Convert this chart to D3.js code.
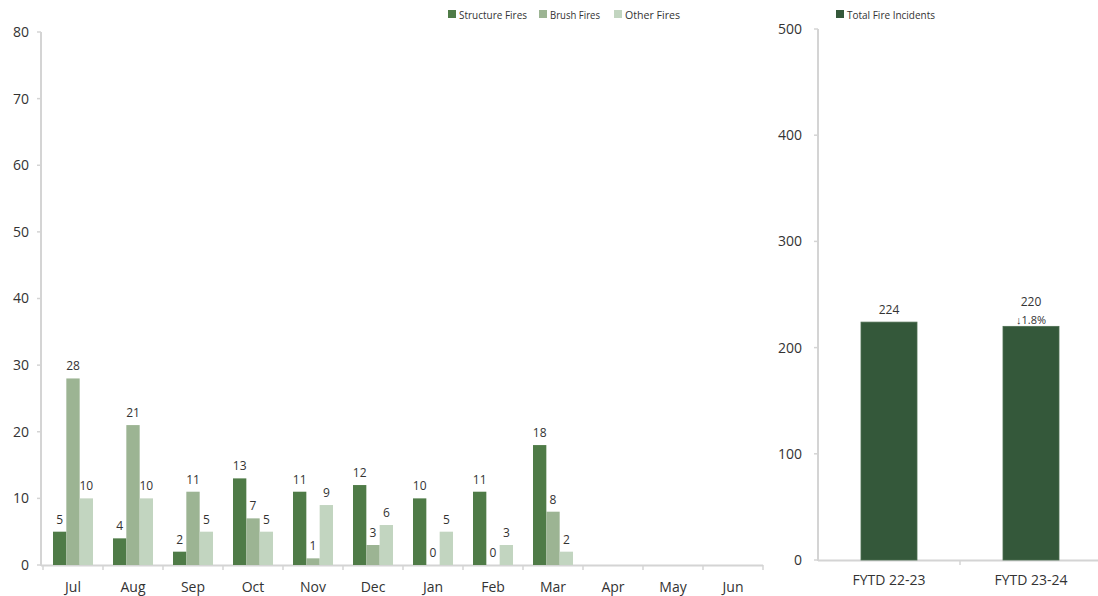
<!DOCTYPE html>
<html><head><meta charset="utf-8">
<script src="https://cdn.jsdelivr.net/npm/d3@7"></script>
<style>
body{margin:0;background:#fff;}
svg{display:block;font-family:"Open Sans","Liberation Sans",sans-serif;}
</style></head>
<body>
<svg id="c" width="1098" height="596"></svg>
<script>
const months = ["Jul","Aug","Sep","Oct","Nov","Dec","Jan","Feb","Mar","Apr","May","Jun"];
const seriesNames = ["Structure Fires","Brush Fires","Other Fires"];
const structureFires = [5,4,2,13,11,12,10,11,18,null,null,null];
const brushFires = [28,21,11,7,1,3,0,0,8,null,null,null];
const otherFires = [10,10,5,5,9,6,5,3,2,null,null,null];
const leftTicks = [0,10,20,30,40,50,60,70,80];
const periods = ["FYTD 22-23","FYTD 23-24"];
const totalIncidents = [224,220];
const changeLabel = ["","↓1.8%"];
const rightTicks = [0,100,200,300,400,500];
const totalName = "Total Fire Incidents";

const colors = ["#4f7b47","#9cb493","#c2d5c0"];
const totalColor = "#34583a";
const axisColor = "#d4d4d4";
const textColor = "#333";

const svg = d3.select("#c");

// ---------- Left chart ----------
const L = {x0:43, x1:763, y0:565, y1:32};
const xL = d3.scaleBand().domain(months).range([L.x0, L.x1]);
const xInner = d3.scaleBand().domain(seriesNames).range([0, 40]);
const yL = d3.scaleLinear().domain([0,80]).range([L.y0, L.y1]);

const gL = svg.append("g");
// y axis
gL.append("line").attr("x1",41).attr("x2",41).attr("y1",yL(80)).attr("y2",yL(0)+1)
  .attr("stroke",axisColor).attr("stroke-width",2);
leftTicks.forEach(t=>{
  gL.append("line").attr("x1",37).attr("x2",41).attr("y1",yL(t)).attr("y2",yL(t)).attr("stroke",axisColor).attr("stroke-width",1.5);
  gL.append("text").attr("x",29).attr("y",yL(t)).attr("dy","0.35em").attr("text-anchor","end")
    .attr("font-size",14).attr("fill",textColor).text(t);
});
// x axis
gL.append("line").attr("x1",41).attr("x2",L.x1).attr("y1",yL(0)+0.5).attr("y2",yL(0)+0.5)
  .attr("stroke",axisColor).attr("stroke-width",2);
months.forEach((m,i)=>{
  const xs = xL(m);
  gL.append("line").attr("x1",xs).attr("x2",xs).attr("y1",yL(0)).attr("y2",yL(0)+5).attr("stroke",axisColor).attr("stroke-width",1.5);
  gL.append("text").attr("x",xs+xL.bandwidth()/2).attr("y",592).attr("text-anchor","middle")
    .attr("font-size",14).attr("fill",textColor).text(m);
});
gL.append("line").attr("x1",L.x1).attr("x2",L.x1).attr("y1",yL(0)).attr("y2",yL(0)+5).attr("stroke",axisColor).attr("stroke-width",1.5);

const seriesVals = [structureFires, brushFires, otherFires];
seriesVals.forEach((vals,si)=>{
  months.forEach((m,i)=>{
    const v = vals[i];
    if(v===null) return;
    const x = xL(m) + 10 + xInner(seriesNames[si]);
    const w = xInner.bandwidth();
    gL.append("rect").attr("x",x).attr("y",yL(v)).attr("width",w).attr("height",yL(0)-yL(v))
      .attr("fill",colors[si]);
    gL.append("text").attr("x",x+w/2).attr("y",yL(v)-8).attr("text-anchor","middle")
      .attr("font-size",12).attr("fill",textColor).text(v);
  });
});

// legend left
const legX = [448,539,614];
seriesNames.forEach((n,i)=>{
  svg.append("rect").attr("x",legX[i]).attr("y",10).attr("width",8).attr("height",8).attr("fill",colors[i]);
  svg.append("text").attr("x",legX[i]+11).attr("y",18.5).attr("font-size",11).attr("fill",textColor)
    .attr("textLength", [68,50,55][i]).attr("lengthAdjust","spacingAndGlyphs").text(n);
});

// ---------- Right chart ----------
const R = {x0:818, x1:1102, y0:560, y1:29};
const xR = d3.scaleBand().domain(periods).range([R.x0, R.x1]).paddingInner(0).paddingOuter(0);
const yR = d3.scaleLinear().domain([0,500]).range([R.y0, R.y1]);
const gR = svg.append("g");
gR.append("line").attr("x1",818).attr("x2",818).attr("y1",yR(500)).attr("y2",yR(0)+1)
  .attr("stroke",axisColor).attr("stroke-width",2);
rightTicks.forEach(t=>{
  gR.append("line").attr("x1",814).attr("x2",818).attr("y1",yR(t)).attr("y2",yR(t)).attr("stroke",axisColor).attr("stroke-width",1.5);
  gR.append("text").attr("x",802).attr("y",yR(t)).attr("dy","0.35em").attr("text-anchor","end")
    .attr("font-size",14).attr("fill",textColor).text(t);
});
gR.append("line").attr("x1",818).attr("x2",1098).attr("y1",yR(0)+0.5).attr("y2",yR(0)+0.5)
  .attr("stroke",axisColor).attr("stroke-width",2);
gR.append("line").attr("x1",xR(periods[1])).attr("x2",xR(periods[1])).attr("y1",yR(0)).attr("y2",yR(0)+5).attr("stroke",axisColor).attr("stroke-width",1.5);
const bw = 56;
periods.forEach((p,i)=>{
  const cx = xR(p)+xR.bandwidth()/2;
  const v = totalIncidents[i];
  gR.append("rect").attr("x",cx-bw/2).attr("y",yR(v)).attr("width",bw).attr("height",yR(0)-yR(v))
    .attr("fill",totalColor).attr("stroke","#4c6e50").attr("stroke-width",0.8);
  gR.append("text").attr("x",cx).attr("y",585).attr("text-anchor","middle")
    .attr("font-size",14).attr("fill",textColor).text(p);
  if(changeLabel[i]){
    gR.append("text").attr("x",cx).attr("y",yR(v)-20).attr("text-anchor","middle")
      .attr("font-size",12).attr("fill",textColor).text(v);
    gR.append("text").attr("x",cx).attr("y",yR(v)-2).attr("text-anchor","middle")
      .attr("font-size",11).attr("fill",textColor).text(changeLabel[i]);
  } else {
    gR.append("text").attr("x",cx).attr("y",yR(v)-8).attr("text-anchor","middle")
      .attr("font-size",12).attr("fill",textColor).text(v);
  }
});
// legend right
svg.append("rect").attr("x",836).attr("y",10).attr("width",8).attr("height",8).attr("fill",totalColor);
svg.append("text").attr("x",847).attr("y",18.5).attr("font-size",11).attr("fill",textColor)
  .attr("textLength",88).attr("lengthAdjust","spacingAndGlyphs").text(totalName);
</script>
</body></html>
